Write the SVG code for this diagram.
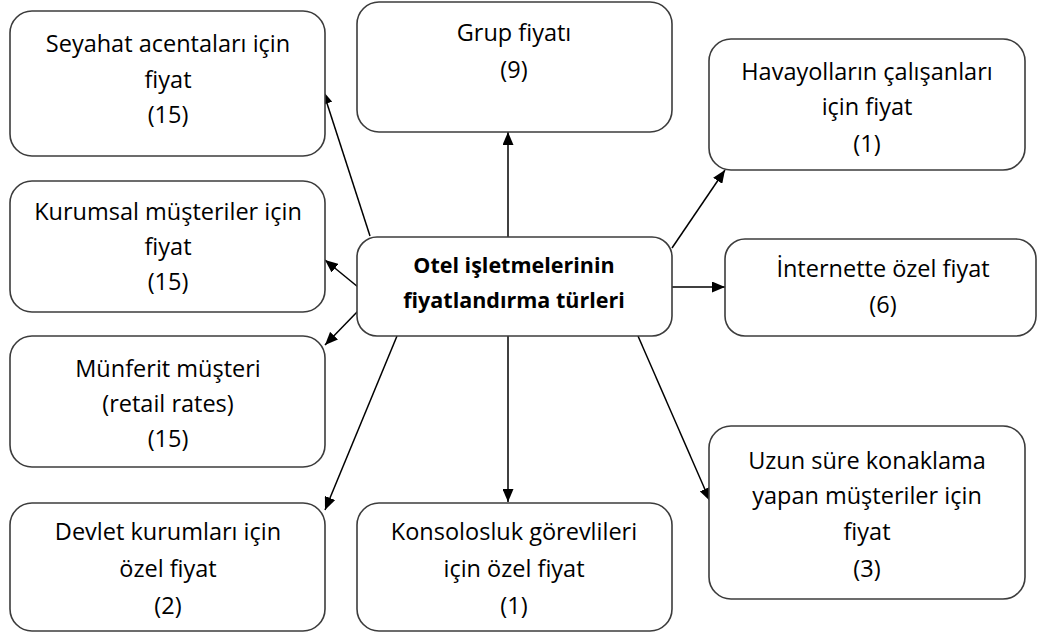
<svg xmlns="http://www.w3.org/2000/svg" width="1038" height="637" viewBox="0 0 1038 637">
<style>
.box{fill:#fff;stroke:#3c3c3c;stroke-width:1.6}
.t{font-family:"Open Sans","Noto Sans",sans-serif;font-size:23.5px;fill:#000;text-anchor:middle;font-variant-ligatures:none}
.b{font-weight:bold;font-size:21.5px}
.c{stroke:#000;stroke-width:1.5;fill:none}
</style>
<defs>
<marker id="ah" viewBox="0 0 13 11" refX="13" refY="5.5" markerWidth="13" markerHeight="11" markerUnits="userSpaceOnUse" orient="auto">
<path d="M0,0 L13,5.5 L0,11 Z" fill="#000"/>
</marker>
</defs>
<rect width="1038" height="637" fill="#fff"/>
<g id="connectors">
<line class="c" x1="508" y1="237" x2="508" y2="132" marker-end="url(#ah)"/>
<line class="c" x1="508" y1="336" x2="508" y2="502" marker-end="url(#ah)"/>
<line class="c" x1="370" y1="236" x2="323" y2="91" marker-end="url(#ah)"/>
<line class="c" x1="358" y1="287" x2="325" y2="260" marker-end="url(#ah)"/>
<line class="c" x1="358" y1="311" x2="325" y2="345" marker-end="url(#ah)"/>
<line class="c" x1="397" y1="336" x2="325" y2="510" marker-end="url(#ah)"/>
<line class="c" x1="672" y1="248" x2="725" y2="170" marker-end="url(#ah)"/>
<line class="c" x1="672" y1="287" x2="725" y2="287" marker-end="url(#ah)"/>
<line class="c" x1="638" y1="336" x2="710" y2="501" marker-end="url(#ah)"/>
</g>
<g id="n-seyahat"><rect class="box" x="10" y="11" width="315" height="145" rx="22"/>
<text class="t" x="168" y="52">Seyahat acentaları için</text><text class="t" x="168" y="88">fiyat</text><text class="t" x="168" y="123">(15)</text></g>
<g id="n-grup"><rect class="box" x="357" y="2" width="315" height="130" rx="22"/>
<text class="t" x="514" y="41">Grup fiyatı</text><text class="t" x="514" y="78">(9)</text></g>
<g id="n-havayollari"><rect class="box" x="709" y="39" width="316" height="131" rx="22"/>
<text class="t" x="867" y="80">Havayolların çalışanları</text><text class="t" x="867" y="115">için fiyat</text><text class="t" x="867" y="152">(1)</text></g>
<g id="n-kurumsal"><rect class="box" x="10" y="181" width="315" height="131" rx="22"/>
<text class="t" x="168" y="220">Kurumsal müşteriler için</text><text class="t" x="168" y="255">fiyat</text><text class="t" x="168" y="290">(15)</text></g>
<g id="n-center"><rect class="box" x="357" y="237" width="315" height="99" rx="20"/>
<text class="t b" x="514" y="273">Otel işletmelerinin</text><text class="t b" x="514" y="308">fiyatlandırma türleri</text></g>
<g id="n-internet"><rect class="box" x="725" y="239" width="311" height="97" rx="20"/>
<text class="t" x="883" y="277">İnternette özel fiyat</text><text class="t" x="883" y="313">(6)</text></g>
<g id="n-munferit"><rect class="box" x="10" y="336" width="315" height="131" rx="22"/>
<text class="t" x="168" y="377">Münferit müşteri</text><text class="t" x="168" y="412">(retail rates)</text><text class="t" x="168" y="447">(15)</text></g>
<g id="n-devlet"><rect class="box" x="10" y="503" width="315" height="128" rx="22"/>
<text class="t" x="168" y="540">Devlet kurumları için</text><text class="t" x="168" y="577">özel fiyat</text><text class="t" x="168" y="614">(2)</text></g>
<g id="n-konsolosluk"><rect class="box" x="357" y="503" width="315" height="128" rx="22"/>
<text class="t" x="514" y="540">Konsolosluk görevlileri</text><text class="t" x="514" y="577">için özel fiyat</text><text class="t" x="514" y="614">(1)</text></g>
<g id="n-uzun"><rect class="box" x="709" y="426" width="316" height="173" rx="22"/>
<text class="t" x="867" y="469">Uzun süre konaklama</text><text class="t" x="867" y="504">yapan müşteriler için</text><text class="t" x="867" y="540">fiyat</text><text class="t" x="867" y="577">(3)</text></g>
</svg>
